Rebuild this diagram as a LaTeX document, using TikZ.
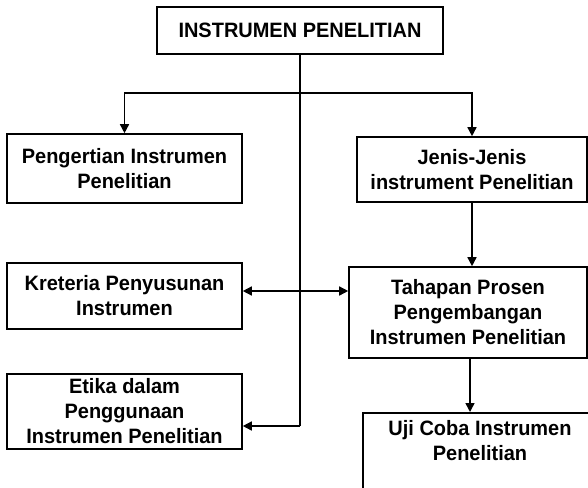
\documentclass[tikz,border=0pt]{standalone}
\usepackage{fontspec}
\setmainfont{Liberation Sans}[FakeStretch=0.96]
\usetikzlibrary{arrows.meta}
\begin{document}
\begin{tikzpicture}[x=1pt,y=-1pt,
  txt/.style={align=center,inner sep=0pt,font=\fontsize{20.8}{25}\selectfont\bfseries},
  box/.style={txt,draw=black,line width=1.6pt,fill=white},
  conn/.style={line width=1.5pt,draw=black},
  arr/.style={conn,-{Triangle[length=9pt,width=9pt]}},
  darr/.style={conn,{Triangle[length=9pt,width=9pt]}-{Triangle[length=9pt,width=9pt]}}]
\useasboundingbox (0,0) rectangle (588,487);
\fill[white] (0,0) rectangle (588,487);
\clip (0,0) rectangle (588,487);
% boxes
\node[box,minimum width=286pt,minimum height=47pt] (top) at (300,30.5) {INSTRUMEN PENELITIAN};
\node[box,minimum width=235pt,minimum height=69pt] (peng) at (124.5,168.5) {Pengertian Instrumen\\Penelitian};
\node[box,minimum width=230pt,minimum height=65pt] (jenis) at (472,169.5) {Jenis-Jenis\\instrument Penelitian};
\node[box,minimum width=235pt,minimum height=66pt] (kret) at (124.5,296) {Kreteria Penyusunan\\Instrumen};
\node[box,minimum width=238pt,minimum height=91pt] (tahap) at (468,312.5) {Tahapan Prosen\\Pengembangan\\Instrumen Penelitian};
\node[box,minimum width=235pt,minimum height=75pt] (etika) at (124.5,411.5) {Etika dalam\\Penggunaan\\Instrumen Penelitian};
\node[box,minimum width=236pt,minimum height=90pt,anchor=north west] (uji) at (362,412) {};
\node[txt,anchor=north] (ujit) at (480,420) {Uji Coba Instrumen\\Penelitian};
% coordinates
\coordinate (j) at (300,93);
\coordinate (ea) at (300,426);
\coordinate (kb) at (300,291);
\coordinate (tu) at (470,0);
% connectors
\draw[conn] (top.south) -- (j);
\draw[conn] (j) -- (ea);
\draw[arr] (ea) -- (etika.east |- ea);
\draw[arr] (j) -| (peng.north);
\draw[arr] (j) -| (jenis.north);
\draw[arr] (jenis.south) -- (jenis.south |- tahap.north);
\draw[darr] (kret.east |- kb) -- (tahap.west |- kb);
\draw[arr] (tahap.south -| tu) -- (uji.north -| tu);
\end{tikzpicture}
\end{document}
